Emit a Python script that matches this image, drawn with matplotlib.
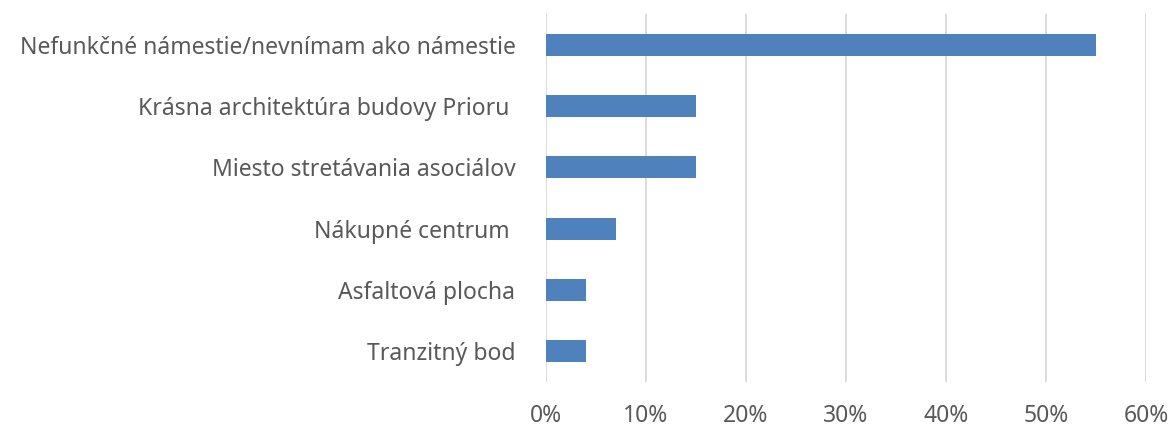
import matplotlib
matplotlib.use("Agg")
import matplotlib.pyplot as plt
from matplotlib.ticker import FuncFormatter

categories = [
    "Nefunkčné námestie/nevnímam ako námestie",
    "Krásna architektúra budovy Prioru ",
    "Miesto stretávania asociálov",
    "Nákupné centrum ",
    "Asfaltová plocha",
    "Tranzitný bod",
]
values = [55, 15, 15, 7, 4, 4]
xticks = [0, 10, 20, 30, 40, 50, 60]

plt.rcParams['font.family'] = ['Noto Sans', 'DejaVu Sans']
fig = plt.figure(figsize=(11.73, 4.26), dpi=100)
ax = fig.add_axes([546/1173, 1-382/426, 600/1173, 368/426])

ypos = list(range(len(categories)))
ax.barh(ypos, values, height=0.36, color="#4F81BD", zorder=3)
ax.set_ylim(len(categories) - 0.5, -0.5)
ax.set_xlim(0, 60)
ax.set_yticks(ypos)
ax.set_yticklabels(categories, fontsize=16.5, color="#595959")
ax.set_xticks(xticks)
ax.xaxis.set_major_formatter(FuncFormatter(lambda v, p: f"{int(v)}%"))
ax.tick_params(axis='x', labelsize=16.5, colors="#595959", length=0, pad=16)
ax.tick_params(axis='y', length=0, pad=22)
ax.grid(axis='x', color="#D9D9D9", linewidth=1.3, zorder=0)
for s in ax.spines.values():
    s.set_visible(False)

fig.savefig("out.png", dpi=100)
